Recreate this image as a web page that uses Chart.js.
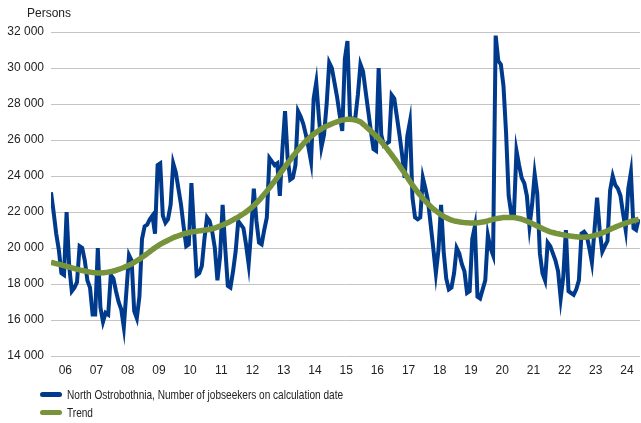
<!DOCTYPE html>
<html>
<head>
<meta charset="utf-8">
<script src="https://cdn.jsdelivr.net/npm/chart.js@4.4.1/dist/chart.umd.min.js"></script>
<style>
    html, body { margin: 0; padding: 0; background: #fff; }
    #wrap { position: relative; width: 641px; height: 423px; font-family: "Liberation Sans", Arial, sans-serif; color: #222; }
    #unit { position: absolute; left: 27px; top: 6px; font-size: 12px; }
    #legend { position: absolute; left: 40px; top: 386px; font-size: 13px; }
    .item { display: flex; align-items: center; height: 17.7px; white-space: nowrap; }
    .swatch { width: 22px; height: 5px; border-radius: 3px; margin-right: 5px; flex: none; }
    .txt { display: inline-block; transform: scaleX(0.775); transform-origin: left center; }
</style>
</head>
<body>
<div id="wrap">
    <canvas id="myChart" width="641" height="423"></canvas>
    <div id="unit">Persons</div>
    <div id="legend"></div>
</div>
<script>
// monthly data, Jan 2006 - Nov 2024
const startYear = 2006;
const yearLabels = ['06', '07', '08', '09', '10', '11', '12', '13', '14', '15', '16', '17', '18', '19', '20', '21', '22', '23', '24'];

const jobseekers = [
    23100, 22000, 20800, 19900, 18600, 18500, 22000, 19000, 17600, 17800, 18100, 20100, // 2006
    20000, 19300, 18200, 17800, 16300, 16300, 20000, 16700, 15900, 16400, 16300, 18500, // 2007
    18300, 17600, 17000, 16600, 15600, 17600, 19600, 19300, 16500, 16100, 17300, 20500, // 2008
    21200, 21300, 21600, 21800, 20800, 24600, 24700, 21800, 21400, 21600, 22400, 24700, // 2009
    24200, 23300, 22400, 21200, 20100, 20200, 23600, 21000, 18500, 18600, 19000, 20500, // 2010
    21700, 21500, 20900, 20000, 18200, 19500, 22400, 20000, 17900, 17800, 18700, 19800, // 2011
    21500, 21300, 21100, 20200, 19100, 21000, 23300, 21500, 20300, 20200, 21000, 21700, // 2012
    25000, 24800, 24600, 24700, 22900, 25500, 27600, 25000, 23800, 23900, 24600, 27600, // 2013
    27300, 26900, 26300, 25600, 24800, 28300, 29200, 27300, 25600, 26300, 28000, 30300, // 2014
    30000, 29200, 28400, 27400, 26500, 30500, 31500, 27200, 27200, 27200, 28500, 30200, // 2015
    29800, 28700, 27600, 26500, 25500, 25400, 30000, 26300, 25700, 25800, 25900, 28500, // 2016
    28300, 27300, 26300, 25200, 23900, 26200, 27000, 22800, 21700, 21600, 21700, 23900, // 2017
    23300, 22600, 21300, 20000, 18600, 19900, 22400, 19800, 18300, 17700, 17800, 18600, // 2018
    20000, 19700, 19100, 18700, 17500, 17600, 20500, 21200, 17300, 17200, 17700, 18200, // 2019
    20700, 20000, 19600, 31800, 30400, 30200, 29000, 26400, 22900, 21900, 21800, 25400, // 2020
    24600, 23900, 23600, 22900, 21200, 22400, 24100, 23000, 19700, 18600, 18200, 20300, // 2021
    20100, 19700, 19300, 18700, 17200, 18400, 21000, 17600, 17500, 17400, 17700, 18200, // 2022
    20800, 20900, 20700, 20000, 19200, 21000, 22800, 21000, 19800, 20100, 20400, 23200, // 2023
    24000, 23500, 23300, 22900, 21900, 21000, 23300, 24200, 21100, 21000, 21600         // 2024
];

const trend = [
    19200, 19170, 19130, 19100, 19060, 19020, 18980, 18940, 18900, 18860, 18820, 18780,
    18750, 18720, 18690, 18660, 18640, 18620, 18610, 18610, 18620, 18640, 18660, 18690,
    18720, 18760, 18810, 18860, 18920, 18980, 19050, 19120, 19200, 19290, 19380, 19480,
    19580, 19690, 19800, 19910, 20010, 20110, 20200, 20280, 20360, 20430, 20500, 20570,
    20630, 20680, 20730, 20780, 20820, 20860, 20890, 20910, 20930, 20950, 20970, 20990,
    21010, 21040, 21070, 21110, 21160, 21220, 21280, 21340, 21410, 21480, 21560, 21640,
    21720, 21810, 21900, 22000, 22110, 22230, 22360, 22500, 22650, 22810, 22980, 23160,
    23340, 23530, 23720, 23910, 24110, 24310, 24510, 24710, 24900, 25090, 25270, 25450,
    25620, 25780, 25930, 26070, 26200, 26320, 26430, 26530, 26620, 26700, 26770, 26840,
    26900, 26960, 27010, 27060, 27100, 27130, 27150, 27150, 27130, 27100, 27060, 27010,
    26880, 26760, 26630, 26500, 26360, 26220, 26070, 25910, 25740, 25560, 25370, 25180,
    24980, 24780, 24570, 24360, 24150, 23930, 23710, 23500, 23300, 23110, 22930, 22760,
    22600, 22450, 22310, 22180, 22060, 21950, 21850, 21760, 21680, 21610, 21550, 21510,
    21480, 21450, 21430, 21410, 21400, 21390, 21390, 21390, 21400, 21420, 21440, 21470,
    21510, 21550, 21590, 21620, 21650, 21670, 21690, 21700, 21700, 21700, 21690, 21670,
    21640, 21600, 21550, 21490, 21430, 21360, 21290, 21220, 21150, 21080, 21010, 20950,
    20900, 20860, 20820, 20790, 20760, 20730, 20700, 20680, 20660, 20640, 20620, 20610,
    20600, 20600, 20610, 20630, 20660, 20700, 20740, 20790, 20840, 20900, 20960, 21030,
    21100, 21160, 21220, 21280, 21330, 21380, 21430, 21480, 21520, 21560, 21600
];

// category labels (one per month)
const months = [];
for (let i = 0; i < jobseekers.length; i++) {
    const y = startYear + Math.floor(i / 12);
    const m = (i % 12) + 1;
    months.push(y + '-' + (m < 10 ? '0' + m : m));
}

const toPoints = arr => arr.map((v, i) => ({ x: i, y: v }));

Chart.defaults.font.family = "'Liberation Sans', Arial, sans-serif";
Chart.defaults.font.size = 12;
Chart.defaults.color = '#222';

const data = {
    datasets: [{
        label: 'North Ostrobothnia, Number of jobseekers on calculation date',
        data: toPoints(jobseekers),
        borderColor: '#003a8c',
        backgroundColor: '#003a8c',
        borderWidth: 4,
        pointRadius: 0,
        tension: 0,
        order: 1
    }, {
        label: 'Trend',
        data: toPoints(trend),
        borderColor: '#77933c',
        backgroundColor: '#77933c',
        borderWidth: 5.5,
        pointRadius: 0,
        tension: 0.3,
        order: 0 // drawn on top
    }]
};

const config = {
    type: 'line',
    data: data,
    options: {
        responsive: false,
        animation: false,
        devicePixelRatio: 1,
        layout: {
            padding: { top: 32, right: 1, bottom: 43, left: 0 }
        },
        plugins: {
            legend: { display: false },
            tooltip: { enabled: false }
        },
        scales: {
            x: {
                type: 'linear',
                min: 0,
                max: 226.5,
                grid: { display: false, drawTicks: false },
                border: { display: false },
                afterBuildTicks: scale => {
                    scale.ticks = yearLabels.map((_, i) => ({ value: i * 12 + 5.5 }));
                },
                afterFit: scale => { scale.height = 24; },
                ticks: {
                    autoSkip: false,
                    maxRotation: 0,
                    padding: 7,
                    callback: (value, index) => yearLabels[index]
                }
            },
            y: {
                min: 14000,
                max: 32000,
                grid: { color: '#c4c4c4', lineWidth: 1, drawTicks: false },
                border: { display: false },
                afterFit: scale => { scale.width = 51; },
                ticks: {
                    stepSize: 2000,
                    padding: 7,
                    callback: value => String(value).replace(/\B(?=(\d{3})+(?!\d))/g, ' ')
                }
            }
        }
    }
};

const myChart = new Chart(document.getElementById('myChart'), config);

// legend below the chart, one row per series
const legendBox = document.getElementById('legend');
data.datasets.forEach(ds => {
    const row = document.createElement('div');
    row.className = 'item';
    const sw = document.createElement('span');
    sw.className = 'swatch';
    sw.style.background = ds.borderColor;
    const txt = document.createElement('span');
    txt.className = 'txt';
    txt.textContent = ds.label;
    row.appendChild(sw);
    row.appendChild(txt);
    legendBox.appendChild(row);
});
</script>
</body>
</html>
